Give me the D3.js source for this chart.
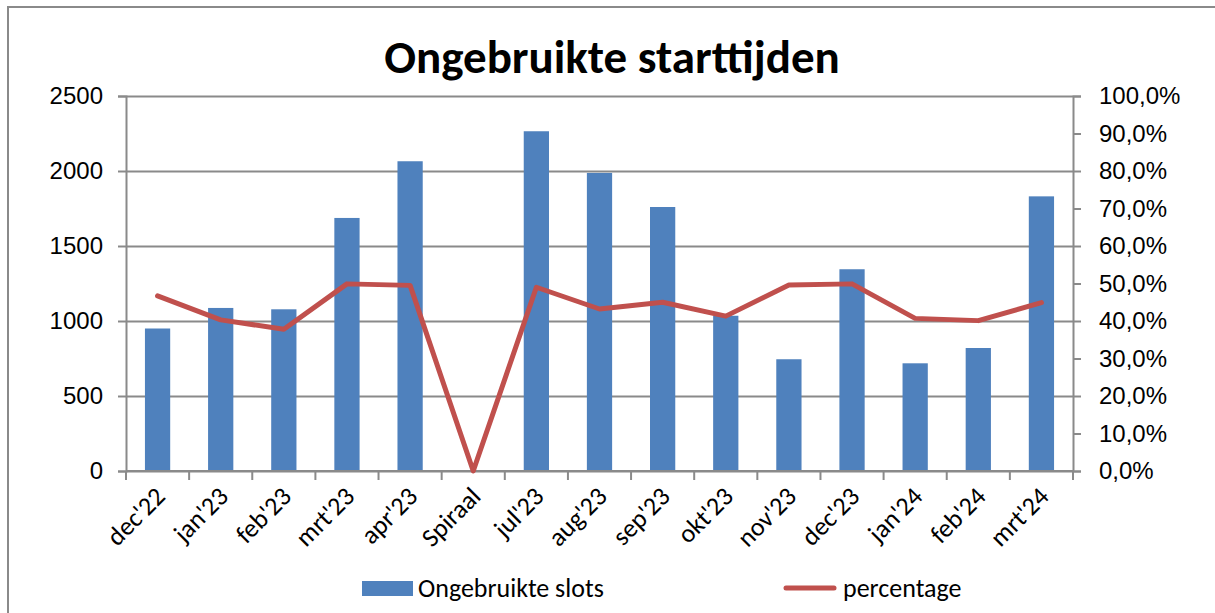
<!DOCTYPE html>
<html>
<head>
<meta charset="utf-8">
<script src="https://cdn.jsdelivr.net/npm/d3@7"></script>
<style>
  body { margin: 0; background: #fff; }
  svg { display: block; font-family: Carlito, Calibri, "Liberation Sans", Arial, sans-serif; }
</style>
</head>
<body>
<svg id="chart"></svg>
<script>
const categories = ["dec'22", "jan'23", "feb'23", "mrt'23", "apr'23", "Spiraal", "jul'23", "aug'23",
  "sep'23", "okt'23", "nov'23", "dec'23", "jan'24", "feb'24", "mrt'24"]
const slots = [950, 1087, 1078, 1687, 2065, 0, 2265, 1987, 1760, 1035, 745, 1345, 718, 820, 1831]
const percentage = [0.467, 0.403, 0.378, 0.499, 0.495, 0, 0.490, 0.432, 0.450, 0.413, 0.496, 0.499, 0.407, 0.401, 0.449]
const leftTicks = [0, 500, 1000, 1500, 2000, 2500]
const rightTicks = [0, 0.1, 0.2, 0.3, 0.4, 0.5, 0.6, 0.7, 0.8, 0.9, 1.0]

const width = 1215, height = 613
const margin = { top: 96, right: 142, bottom: 142, left: 126 }
const gridColor = "#8a8a8a"
const barColor = "#4f81bd"
const lineColor = "#c0504d"
const tickFont = 24
const legendFont = 26

const svg = d3.select("#chart")
  .attr("width", width)
  .attr("height", height)

// outer frame of the chart
svg.append("rect")
  .attr("x", 8).attr("y", 7)
  .attr("width", width + 20).attr("height", height + 20)
  .attr("fill", "none")
  .attr("stroke", gridColor)
  .attr("stroke-width", 2)

const x = d3.scaleBand()
  .domain(categories)
  .range([margin.left, width - margin.right])
  .paddingInner(0.6)
  .paddingOuter(0.3)

const yL = d3.scaleLinear()
  .domain([0, 2500])
  .range([height - margin.bottom, margin.top])

const yR = d3.scaleLinear()
  .domain([0, 1])
  .range([height - margin.bottom, margin.top])

// title
svg.append("text")
  .attr("x", 612).attr("y", 73)
  .attr("text-anchor", "middle")
  .attr("font-weight", "bold")
  .attr("font-size", 47)
  .text("Ongebruikte starttijden")

// gridlines
svg.append("g")
  .attr("transform", `translate(${margin.left},0)`)
  .call(d3.axisLeft(yL).tickValues(leftTicks).tickSize(-(width - margin.left - margin.right)).tickFormat(""))
  .call(g => g.select(".domain").remove())
  .call(g => g.selectAll("line").attr("stroke", gridColor).attr("stroke-width", 2))

// bars
svg.append("g")
  .attr("fill", barColor)
  .selectAll("rect")
  .data(slots)
  .join("rect")
  .attr("x", (d, i) => x(categories[i]))
  .attr("y", d => yL(d))
  .attr("width", x.bandwidth())
  .attr("height", d => yL(0) - yL(d))

// left axis
svg.append("g")
  .attr("transform", `translate(${margin.left},0)`)
  .call(d3.axisLeft(yL).tickValues(leftTicks).tickSize(8).tickPadding(15).tickFormat(d3.format("d")))
  .call(g => g.select(".domain").attr("stroke", gridColor).attr("stroke-width", 2))
  .call(g => g.selectAll("line").attr("stroke", gridColor).attr("stroke-width", 2))
  .call(g => g.selectAll("text").attr("font-size", tickFont).attr("fill", "#000").attr("font-family", null))

// right axis
const pct = d3.format(".1f")
svg.append("g")
  .attr("transform", `translate(${width - margin.right},0)`)
  .call(d3.axisRight(yR).tickValues(rightTicks).tickSize(8).tickPadding(18)
    .tickFormat(d => pct(d * 100).replace(".", ",") + "%"))
  .call(g => g.select(".domain").attr("stroke", gridColor).attr("stroke-width", 2))
  .call(g => g.selectAll("line").attr("stroke", gridColor).attr("stroke-width", 2))
  .call(g => g.selectAll("text").attr("font-size", tickFont).attr("fill", "#000").attr("font-family", null))

// bottom axis with ticks between the categories
const bottom = svg.append("g")
  .attr("transform", `translate(0,${height - margin.bottom})`)
bottom.append("line")
  .attr("x1", margin.left).attr("x2", width - margin.right)
  .attr("stroke", gridColor).attr("stroke-width", 2)
const step = x.step()
bottom.selectAll(".tick")
  .data(d3.range(categories.length + 1))
  .join("line")
  .attr("x1", i => margin.left + i * step)
  .attr("x2", i => margin.left + i * step)
  .attr("y1", 0).attr("y2", 9)
  .attr("stroke", gridColor).attr("stroke-width", 2)
bottom.selectAll("text")
  .data(categories)
  .join("text")
  .attr("transform", d => `translate(${x(d) + x.bandwidth() / 2 + 9},${27}) rotate(-45)`)
  .attr("text-anchor", "end")
  .attr("font-size", legendFont)
  .text(d => d)

// percentage line
const line = d3.line()
  .x((d, i) => x(categories[i]) + x.bandwidth() / 2)
  .y(d => yR(d))
svg.append("path")
  .datum(percentage)
  .attr("d", line)
  .attr("fill", "none")
  .attr("stroke", lineColor)
  .attr("stroke-width", 5)
  .attr("stroke-linejoin", "round")
  .attr("stroke-linecap", "round")

// legend
const legend = svg.append("g")
legend.append("rect")
  .attr("x", 362).attr("y", 581).attr("width", 51).attr("height", 15)
  .attr("fill", barColor)
legend.append("text")
  .attr("x", 418).attr("y", 597)
  .attr("font-size", legendFont)
  .text("Ongebruikte slots")
legend.append("line")
  .attr("x1", 786).attr("x2", 834).attr("y1", 588).attr("y2", 588)
  .attr("stroke", lineColor).attr("stroke-width", 5).attr("stroke-linecap", "round")
legend.append("text")
  .attr("x", 843).attr("y", 597)
  .attr("font-size", legendFont)
  .text("percentage")
</script>
</body>
</html>
